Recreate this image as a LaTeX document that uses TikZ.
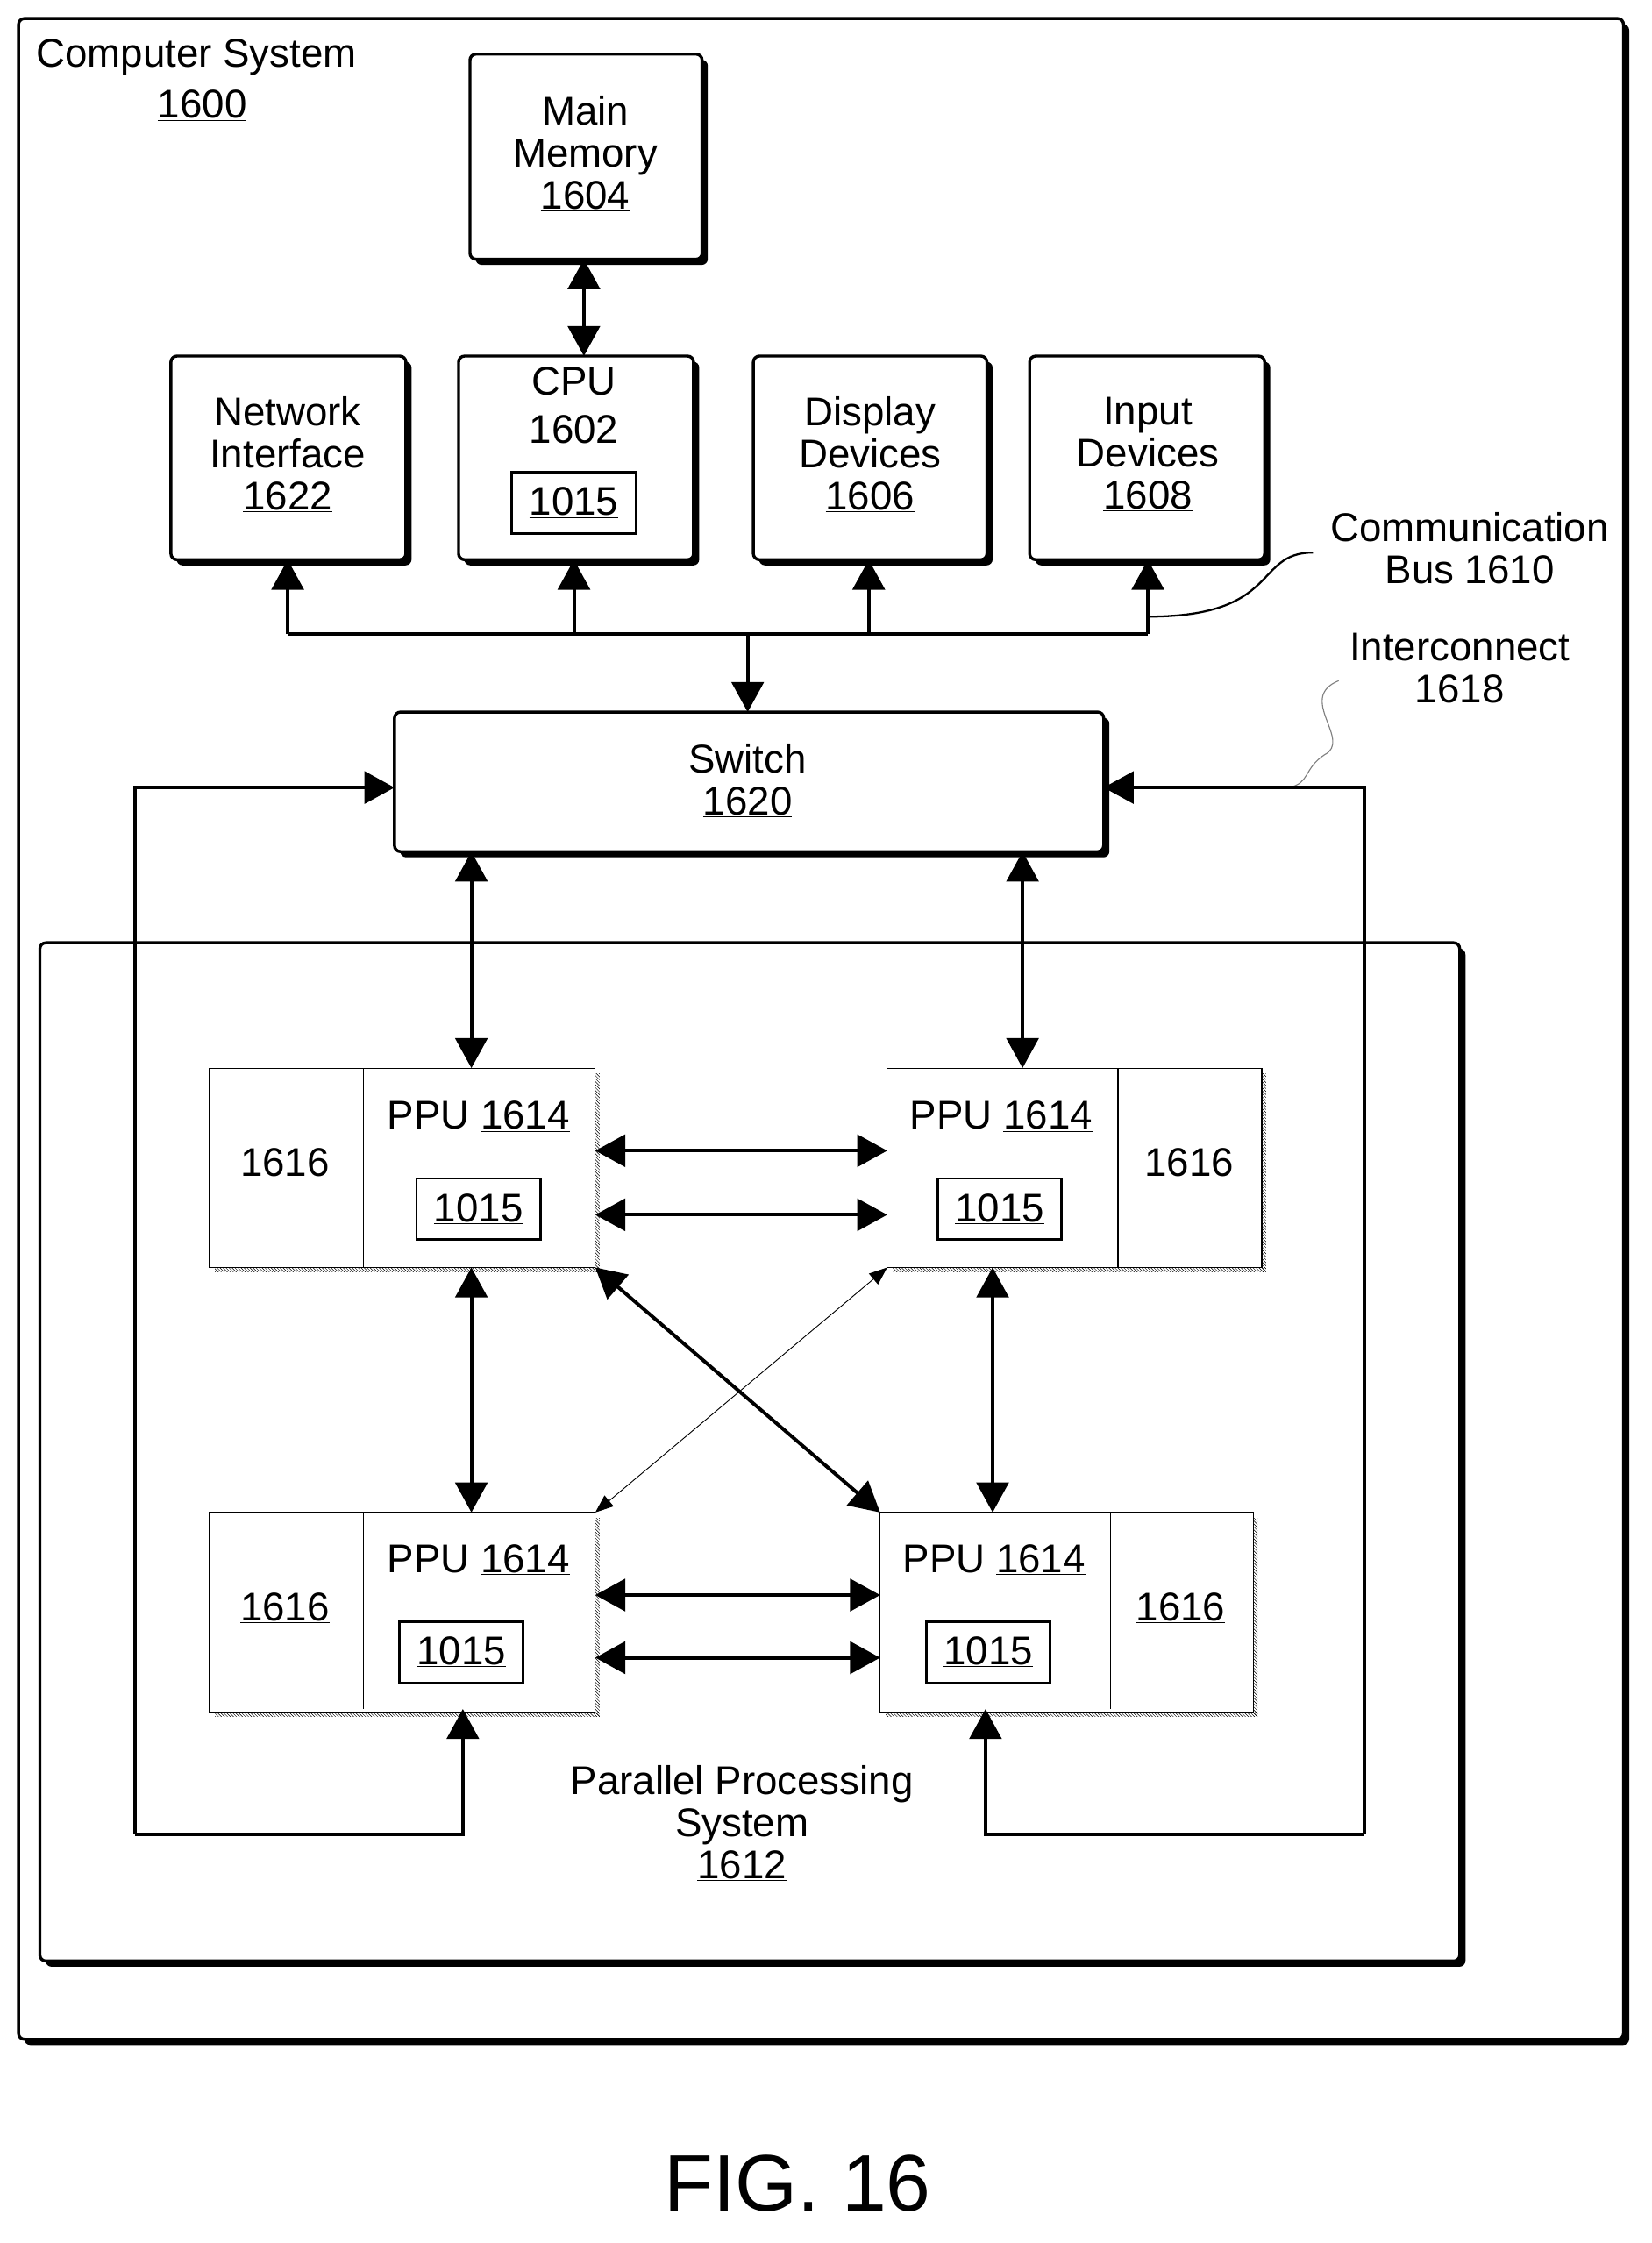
\documentclass[tikz,border=0pt]{standalone}
\usepackage{fontspec}
\setmainfont{Liberation Sans}
\usetikzlibrary{arrows.meta,shadows,patterns}
\begin{document}
\begin{tikzpicture}[x=0.05cm,y=-0.05cm,
  font=\fontsize{40}{48}\selectfont,
  box/.style={draw,line width=3pt,rounded corners=6pt,fill=white,
     drop shadow={shadow xshift=0.2cm,shadow yshift=-0.2cm,fill=black,opacity=1}},
  ln/.style={line width=3.5pt},
  tip/.style={-{Triangle[length=30pt,width=32pt]}},
  dtip/.style={{Triangle[length=30pt,width=32pt]}-{Triangle[length=30pt,width=32pt]}},
  ibox/.style={draw,line width=2.5pt,minimum width=87*0.05cm,minimum height=43*0.05cm},
  ppu/.style={draw,line width=1pt,fill=white}]
\useasboundingbox (0,0) rectangle (1160,1575);
% outer
\draw[box] (13,13) rectangle (1140,1432);
\node[anchor=west] (cs) at (23,40) {Computer System};
\node (cs2) at (142,74) {\underline{1600}};
% top boxes
\draw[box] (330,38) rectangle (493,182);
\node[align=center] (mm) at (411,108) {Main\\[-6pt]Memory\\[-6pt]\underline{1604}};
\draw[box] (120,250) rectangle (285,393);
\node[align=center] (ni) at (202,319) {Network\\[-6pt]Interface\\[-6pt]\underline{1622}};
\draw[box] (322,250) rectangle (487,393);
\node (cpu) at (403,268) {CPU};
\node (cpu2) at (403,302) {\underline{1602}};
\node[ibox] (cb) at (403,353) {\underline{1015}};
\draw[box] (529,250) rectangle (693,393);
\node[align=center] (dd) at (611,319) {Display\\[-6pt]Devices\\[-6pt]\underline{1606}};
\draw[box] (723,250) rectangle (888,393);
\node[align=center] (id) at (806,319) {Input\\[-6pt]Devices\\[-6pt]\underline{1608}};
\node[align=center] (cbl) at (1032,385) {Communication\\[-6pt]Bus 1610};
\node[align=center] (icl) at (1025,469) {Interconnect\\[-6pt]1618};
% switch
\draw[box] (277,500) rectangle (775,598);
\node[align=center] (sw) at (525,548) {Switch\\[-6pt]\underline{1620}};
% connectors top
\coordinate (mmb) at (410,182); \coordinate (cput) at (410,250);
\draw[ln,dtip] (mmb) -- (cput);
\coordinate (b1) at (202,445); \coordinate (b4) at (806,445);
\draw[ln] (b1) -- (b4);
\draw[ln,tip] (b1) -- (202,393);
\draw[ln,tip] (403,445) -- (403,393);
\draw[ln,tip] (610,445) -- (610,393);
\draw[ln,tip] (b4) -- (806,393);
\draw[ln,tip] (525,445) -- (525,500);
\draw[line width=2pt] (806,433) .. controls (900,433) and (880,388) .. (922,388);
\draw[line width=1pt,gray] (940,478) .. controls (910,490) and (950,520) .. (930,530) .. controls (915,540) and (920,550) .. (905,553);
% parallel box
\draw[box] (28,662) rectangle (1025,1377);
\node[align=center] (ps) at (521,1280) {Parallel Processing\\[-6pt]System\\[-6pt]\underline{1612}};
% PPUs
\foreach \x/\y/\w in {147/750/271,623/750/263,147/1062/271,618/1062/262}{
  \fill[pattern=north west lines,pattern color=black] (\x+4,\y+140) rectangle (\x+\w+3,\y+143);
  \fill[pattern=north west lines,pattern color=black] (\x+\w,\y+4) rectangle (\x+\w+3,\y+143);
  \draw[ppu] (\x,\y) rectangle (\x+\w,\y+140);
}
\draw[line width=1pt] (255,750) -- (255,890);
\draw[line width=1pt] (785,750) -- (785,890);
\draw[line width=1pt] (255,1062) -- (255,1200);
\draw[line width=1pt] (780,1062) -- (780,1200);
\node (p1) at (336,784) {PPU \underline{1614}};
\node (m1) at (200,817) {\underline{1616}};
\node[ibox] (c1) at (336,849) {\underline{1015}};
\node (p2) at (703,784) {PPU \underline{1614}};
\node (m2) at (835,817) {\underline{1616}};
\node[ibox] (c2) at (702,849) {\underline{1015}};
\node (p3) at (336,1095) {PPU \underline{1614}};
\node (m3) at (200,1129) {\underline{1616}};
\node[ibox] (c3) at (324,1160) {\underline{1015}};
\node (p4) at (698,1095) {PPU \underline{1614}};
\node (m4) at (829,1129) {\underline{1616}};
\node[ibox] (c4) at (694,1160) {\underline{1015}};
% PPU connectors
\draw[ln,dtip] (331,598) -- (331,750);
\draw[ln,dtip] (718,598) -- (718,750);
\draw[ln,dtip] (418,808) -- (623,808);
\draw[ln,dtip] (418,853) -- (623,853);
\draw[ln,dtip] (418,1120) -- (618,1120);
\draw[ln,dtip] (418,1164) -- (618,1164);
\draw[ln,dtip] (331,890) -- (331,1062);
\draw[ln,dtip] (697,890) -- (697,1062);
\draw[ln,dtip] (418,890) -- (618,1062);
\draw[line width=0.8pt,{Triangle[length=18pt,width=14pt]}-{Triangle[length=18pt,width=14pt]}] (623,890) -- (418,1062);
% loops
\draw[ln,tip] (95,1288) -- (325,1288) -- (325,1200);
\draw[ln,tip] (95,1288) -- (95,553) -- (277,553);
\draw[ln,tip] (958,1288) -- (692,1288) -- (692,1200);
\draw[ln,tip] (958,1288) -- (958,553) -- (775,553);
\node (fig) at (560,1533) {\fontsize{80}{90}\selectfont FIG. 16};
\end{tikzpicture}
\end{document}
